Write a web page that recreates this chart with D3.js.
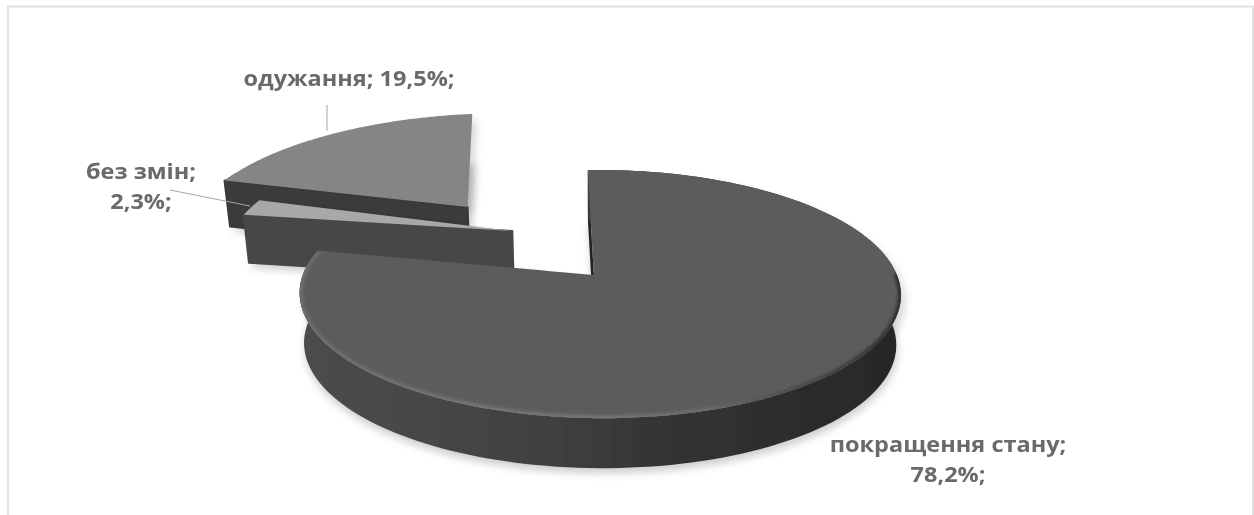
<!DOCTYPE html>
<html lang="uk">
<head>
<meta charset="utf-8">
<script src="https://cdn.jsdelivr.net/npm/d3@7"></script>
<style>
  html, body { margin: 0; padding: 0; background: #fff; }
  svg { display: block; }
  text { font-family: "Open Sans", "Noto Sans", sans-serif; font-weight: 700; fill: #6a6a6a; font-size: 21px; }
</style>
</head>
<body>
<svg id="chart" width="1254" height="515"></svg>
<script>
// Outcome shares, in the order the slices run clockwise
const categories = ["покращення стану", "без змін", "одужання"];
const shares = [78.2, 2.3, 19.5];
const shareLabels = ["78,2%", "2,3%", "19,5%"];
const topColors = ["#5c5c5c", "#a8a8a8", "#858585"];
const wallColors = ["#444", "#474747", "#3a3a3a"];
// Slice displacement on the disc plane, in disc radii
const offsetU = [0, -0.253, -0.45];
const offsetV = [0, -0.39, -0.62];
const radiusFactor = [1, 1.1, 1.1];
// Small per-slice turn around the hub, in degrees
const sliceTurn = [2.8, 0, 0];
// Hubs sit just off the centre of their arcs
const hubU = [0.04, 0, 0.016];
const hubV = [0, 0, -0.01];
// Extrusion height of each slice
const sliceDepth = [50, 48, 46];

const width = 1254, height = 515;
const cx = 582, cy = 275;          // disc centre on the page
const R = 296, H = 121;            // disc semi-axes before perspective
const p = 0.153, q = 0.06;         // perspective strength, depth and sideways
const shrink = 0.985, vanishX = 594;  // lower edge narrows towards this x

const project = (u, v) => {
  const s = 1 / (1 - p * v - q * u);
  return [cx + R * u * s, cy + H * v * s];
};

const rad = Math.PI / 180;
const pie = d3.pie().sort(null).value(d => d).startAngle(-1.5 * rad).endAngle(358.5 * rad);
const arcs = pie(shares);
const line = d3.line();

const svg = d3.select("#chart");
const defs = svg.append("defs");

defs.append("filter").attr("id", "soft").attr("x", "-5%").attr("y", "-5%").attr("width", "110%").attr("height", "110%")
  .append("feGaussianBlur").attr("stdDeviation", 0.6);
defs.append("filter").attr("id", "shade").attr("x", "-10%").attr("y", "-10%").attr("width", "120%").attr("height", "120%")
  .append("feGaussianBlur").attr("stdDeviation", 4);
defs.append("filter").attr("id", "bevel").attr("x", "-5%").attr("y", "-5%").attr("width", "110%").attr("height", "110%")
  .append("feGaussianBlur").attr("stdDeviation", 1.8);

// Side wall of the big slice darkens from left to right
const wallGrad = defs.append("linearGradient").attr("id", "wallGrad")
  .attr("gradientUnits", "userSpaceOnUse").attr("x1", 300).attr("x2", 900).attr("y1", 0).attr("y2", 0);
[[0, "#4c4c4c"], [0.4, "#414141"], [0.62, "#333"], [1, "#272727"]].forEach(([o, c]) =>
  wallGrad.append("stop").attr("offset", o).attr("stop-color", c));

// Rim highlight fades out towards the right-hand edge
const rimGrad = defs.append("linearGradient").attr("id", "rimGrad")
  .attr("gradientUnits", "userSpaceOnUse").attr("x1", 300).attr("x2", 900).attr("y1", 0).attr("y2", 0);
[[0, "#6e6e6e"], [0.5, "#767676"], [0.68, "#6a6a6a"], [0.86, "#444"], [1, "#2e2e2e"]].forEach(([o, c]) =>
  rimGrad.append("stop").attr("offset", o).attr("stop-color", c));

// Chart frame; it runs off the bottom of the page
svg.append("rect").attr("x", 8).attr("y", 6.5).attr("width", 1245).attr("height", 540)
  .attr("fill", "#fff").attr("stroke", "#e2e2e2").attr("stroke-width", 2);

const root = svg.append("g").attr("filter", "url(#soft)");

const outline = (d, i) => {
  const f = radiusFactor[i], steps = 160, pts = [];
  for (let k = 0; k <= steps; k++) {
    const a = d.startAngle + (d.endAngle - d.startAngle) * k / steps + sliceTurn[i] * rad;
    pts.push(project(offsetU[i] + f * Math.sin(a), offsetV[i] - f * Math.cos(a)));
  }
  return pts;
};

// Back-most slice first, so nearer slices overlap it
[2, 1, 0].forEach(i => {
  const d = arcs[i];
  const rim = outline(d, i);
  const apex = project(offsetU[i] + hubU[i], offsetV[i] + hubV[i]);
  const lower = ([x, y]) => [vanishX + (x - vanishX) * shrink, y + sliceDepth[i]];
  const g = root.append("g").attr("class", "slice").attr("data-name", categories[i]);
  // Far end of the back slice has no visible wall, so only its near corner is extruded
  const wallRim = i === 2 ? rim.slice(0, 12) : rim;
  const low = wallRim.map(lower);
  const lowApex = lower(apex);

  // Soft shadows under and around the slice
  g.append("path")
    .attr("d", line([apex, ...rim].map(lower).map(([x, y]) => [x + 1, y + 5])) + "Z")
    .attr("fill", "#000").attr("opacity", 0.2).attr("filter", "url(#shade)");
  g.append("path")
    .attr("d", line([apex, ...rim].map(([x, y]) => [x + 4, y + 6])) + "Z")
    .attr("fill", "#000").attr("opacity", 0.16).attr("filter", "url(#shade)");

  // Cut face from the hub to the start of the arc
  g.append("path").attr("d", line([apex, rim[0], low[0], lowApex]) + "Z")
    .attr("fill", i === 0 ? "#222" : wallColors[i])
    .attr("stroke", i === 0 ? "none" : wallColors[i])
    .attr("stroke-width", 2).attr("stroke-linejoin", "round");

  // Curved outer wall
  g.append("path").attr("d", line([...wallRim, ...low.slice().reverse()]) + "Z")
    .attr("fill", i === 0 ? "url(#wallGrad)" : wallColors[i]);

  // Top face
  const topPath = line([apex, ...rim]) + "Z";
  g.append("path").attr("d", topPath).attr("fill", topColors[i]);

  if (i === 0) {
    // Bevel along the near edge of the disc
    defs.append("clipPath").attr("id", "topClip").append("path").attr("d", topPath);
    const nearEdge = rim.filter((_, k) => k >= 50);
    g.append("g").attr("clip-path", "url(#topClip)")
      .append("path").attr("d", line(nearEdge)).attr("fill", "none")
      .attr("stroke", "url(#rimGrad)").attr("stroke-width", 6).attr("filter", "url(#bevel)");
  }
});

// Leader lines
const leaders = [
  [[327, 105], [327, 131]],
  [[170, 190], [250, 206]]
];
const leaderLayer = root.append("g").attr("fill", "none").attr("stroke", "#a6a6a6").attr("stroke-width", 1);
leaders.forEach(l => leaderLayer.append("path").attr("d", line(l)));

// Data labels, drawn slightly wide
const labelStretch = 1.12;
const labelRows = [
  { x: 349, y: 86,  rows: [`${categories[2]}; ${shareLabels[2]};`] },
  { x: 141, y: 179, rows: [`${categories[1]};`, `${shareLabels[1]};`] },
  { x: 948, y: 452, rows: [`${categories[0]};`, `${shareLabels[0]};`] }
];
const labelLayer = root.append("g");
labelRows.forEach(l => {
  l.rows.forEach((r, k) => {
    labelLayer.append("text").attr("text-anchor", "middle")
      .attr("transform", `translate(${l.x},${l.y + k * 30}) scale(${labelStretch},1)`)
      .text(r);
  });
});
</script>
</body>
</html>
